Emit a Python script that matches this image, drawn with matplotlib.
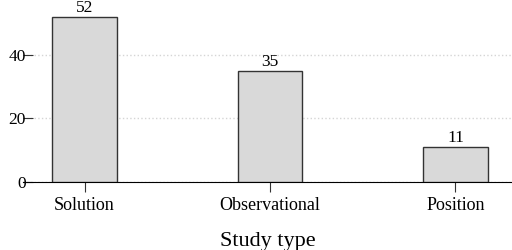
import numpy as np
from matplotlib import pyplot as plt

plt.rcParams['font.family'] = ['Liberation Serif', 'DejaVu Serif']

study_types = ['Solution', 'Observational', 'Position']
counts = [52, 35, 11]

fig = plt.figure(figsize=(5.12, 2.5), dpi=100)
ax = fig.add_axes([0.045, 0.272, 0.955, 0.724])

x = np.arange(len(study_types))
bars = ax.bar(x, counts, width=0.35, color='#d9d9d9', edgecolor='#333333',
              linewidth=1.0, zorder=3)
for b, c in zip(bars, counts):
    ax.text(b.get_x() + b.get_width() / 2, c + 0.3, str(c),
            ha='center', va='bottom', fontsize=12.5)

ax.set_xlim(-0.3315, 2.305)
ax.set_ylim(0, 57)
ax.set_yticks([0, 20, 40])
ax.set_xticks(x)
ax.set_xticklabels(study_types, fontsize=13)
ax.set_xlabel('Study type', fontsize=16, labelpad=13)

ax.yaxis.grid(True, color='#d5d5d5', linestyle=':', linewidth=1.0, zorder=0)
for s in ['left', 'top', 'right']:
    ax.spines[s].set_visible(False)
ax.spines['bottom'].set_color('black')
ax.tick_params(axis='y', direction='in', length=7, color='#333333',
               labelsize=12.5, pad=-2)
ax.tick_params(axis='x', direction='out', length=7, color='#333333', pad=4)

fig.savefig('out.png', dpi=100)
